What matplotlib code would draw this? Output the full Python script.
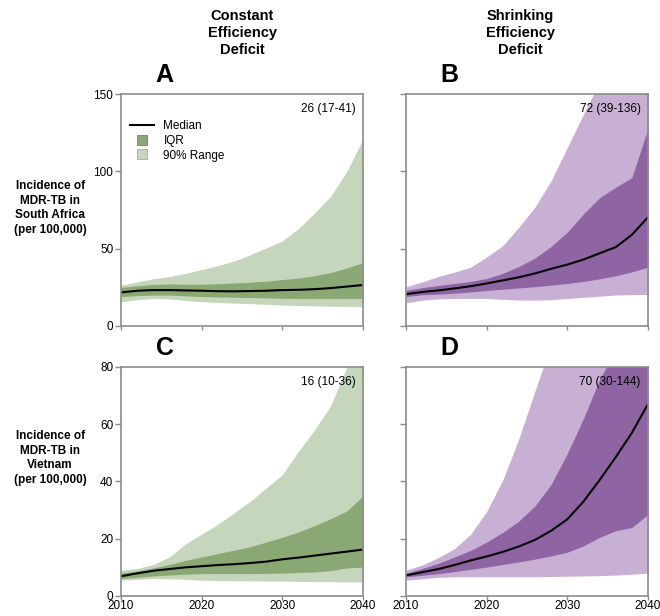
import matplotlib
matplotlib.use("Agg")
import matplotlib.pyplot as plt
from matplotlib.lines import Line2D

plt.rcParams["font.family"] = ["Liberation Sans", "DejaVu Sans"]

years = [2010, 2012, 2014, 2016, 2018, 2020, 2022, 2024,
         2026, 2028, 2030, 2032, 2034, 2036, 2038, 2040]

# South Africa, constant efficiency deficit
a_med = [21.7, 22.8, 23.2, 23.2, 23.0, 22.8, 22.5, 22.4, 22.6, 22.8, 23.2, 23.4, 23.8, 24.5, 25.5, 26.5]
a_q_hi = [25, 26, 26.8, 27.2, 27, 27, 27.3, 27.8, 28.3, 29, 30, 31, 32.5, 34.5, 37.5, 41]
a_q_lo = [19, 19.6, 20, 20, 19.5, 19, 18.8, 18.6, 18.4, 18.2, 17.9, 17.8, 17.8, 17.8, 17.8, 17.8]
a_r_hi = [26.4, 28.5, 30.5, 32, 34, 36.5, 39, 42, 46, 50.5, 55, 63, 73, 84, 100, 121]
a_r_lo = [15.7, 17, 17.8, 17.5, 16.5, 15.7, 15.2, 14.8, 14.5, 14.0, 13.5, 13.2, 13, 12.8, 12.6, 12.4]

# South Africa, shrinking efficiency deficit
b_med = [20.6, 22, 23, 24.3, 25.7, 27.5, 29.5, 31.5, 34, 37, 39.7, 43, 47, 51, 59, 70.4]
b_q_hi = [23, 24.8, 26.2, 27.5, 28.8, 30.7, 34, 38.5, 44, 51.5, 60.7, 72.5, 83, 89.7, 96, 128]
b_q_lo = [19, 20.2, 20.6, 21.2, 22, 23, 23.8, 24.6, 25.4, 26.4, 27.5, 28.8, 30.5, 32.5, 35, 38]
b_r_hi = [25.3, 28.5, 32, 34.8, 38, 44.6, 52, 64, 77, 94, 115.5, 137, 158, 180, 200, 220]
b_r_lo = [15, 16.7, 17.5, 17.8, 17.8, 17.8, 17.2, 16.8, 16.7, 17, 17.8, 18.5, 19.3, 20, 20.3, 20.4]

# Vietnam, constant efficiency deficit
c_med = [6.9, 7.9, 8.8, 9.4, 10.0, 10.4, 10.8, 11.1, 11.5, 12.0, 12.8, 13.4, 14.1, 14.8, 15.5, 16.2]
c_q_hi = [8, 8.8, 9.8, 11, 12.4, 13.6, 14.8, 16, 17.2, 18.8, 20.5, 22.3, 24.6, 27, 29.7, 34.9]
c_q_lo = [6.1, 6.5, 7.0, 7.3, 7.6, 7.8, 7.8, 7.8, 7.8, 7.9, 8.0, 8.2, 8.4, 8.8, 9.8, 10.1]
c_r_hi = [9, 9.6, 11, 13.6, 18.2, 21.6, 25, 29, 33, 37.7, 42.3, 50.5, 58, 66.5, 80, 95]
c_r_lo = [5.5, 5.8, 6.1, 6.0, 5.8, 5.5, 5.4, 5.3, 5.3, 5.2, 5.2, 5.1, 5.0, 5.0, 4.9, 4.9]

# Vietnam, shrinking efficiency deficit
d_med = [7.2, 8.3, 9.4, 10.8, 12.4, 13.8, 15.4, 17.3, 19.6, 22.8, 26.8, 33, 40.5, 48.5, 57, 67]
d_q_hi = [8, 9.6, 11.4, 13.6, 15.9, 18.8, 22.2, 26.2, 31.5, 39, 49.8, 62, 75.6, 86, 95, 105]
d_q_lo = [6.7, 7.2, 7.8, 8.5, 9.3, 10.1, 11, 11.9, 12.9, 14, 15.3, 17.5, 20.5, 22.8, 23.9, 28.5]
d_r_hi = [9, 10.8, 13.4, 16.5, 21.5, 29.5, 40.5, 55, 71.7, 88, 105, 120, 135, 150, 165, 180]
d_r_lo = [5.5, 6.0, 6.5, 6.7, 6.7, 6.7, 6.7, 6.7, 6.7, 6.8, 6.9, 7.0, 7.1, 7.3, 7.6, 8.0]

green_q, green_r = "#8aa873", "#c6d6bd"
purple_q, purple_r = "#8e64a3", "#c7b0d4"
spine_col = "#8c8c8c"

fig = plt.figure(figsize=(6.6, 6.16), dpi=100)

panels = [
    ("A", [0.1833, 0.4708, 0.3667, 0.3766], a_med, a_q_lo, a_q_hi, a_r_lo, a_r_hi,
     green_q, green_r, 150, [0, 50, 100, 150], "26 (17-41)"),
    ("B", [0.6152, 0.4708, 0.3667, 0.3766], b_med, b_q_lo, b_q_hi, b_r_lo, b_r_hi,
     purple_q, purple_r, 150, [0, 50, 100, 150], "72 (39-136)"),
    ("C", [0.1833, 0.0325, 0.3667, 0.372], c_med, c_q_lo, c_q_hi, c_r_lo, c_r_hi,
     green_q, green_r, 80, [0, 20, 40, 60, 80], "16 (10-36)"),
    ("D", [0.6152, 0.0325, 0.3667, 0.372], d_med, d_q_lo, d_q_hi, d_r_lo, d_r_hi,
     purple_q, purple_r, 80, [0, 20, 40, 60, 80], "70 (30-144)"),
]

for letter, rect, med, qlo, qhi, rlo, rhi, cq, cr, ymax, yt, ann in panels:
    ax = fig.add_axes(rect)
    ax.fill_between(years, rlo, rhi, color=cr, lw=0)
    ax.fill_between(years, qlo, qhi, color=cq, lw=0)
    ax.plot(years, med, color="black", lw=1.5)
    ax.set_xlim(2010, 2040)
    ax.set_ylim(0, ymax)
    ax.set_xticks([2010, 2020, 2030, 2040])
    ax.set_yticks(yt)
    for s in ax.spines.values():
        s.set_color(spine_col)
        s.set_linewidth(1.2)
    ax.tick_params(direction="out", length=4, width=1, color=spine_col,
                   labelsize=8.5, pad=1.5)
    ax.tick_params(axis="x", length=3, pad=0)
    if letter in ("A", "B"):
        ax.set_xticklabels([])
    if letter in ("B", "D"):
        ax.set_yticklabels([])
    ax.text(0.97, 0.96, ann, transform=ax.transAxes, ha="right", va="top", fontsize=8.5)
    ax.text(0.18, 1.03, letter, transform=ax.transAxes, ha="center", va="bottom",
            fontsize=18, fontweight="bold")
    if letter == "A":
        handles = [
            Line2D([0], [0], color="black", lw=1.5),
            Line2D([0], [0], ls="none", marker="s", markersize=7,
                   markerfacecolor=green_q, markeredgecolor="#6d8a5a", markeredgewidth=0.6),
            Line2D([0], [0], ls="none", marker="s", markersize=7,
                   markerfacecolor=green_r, markeredgecolor="#a0b296", markeredgewidth=0.6),
        ]
        ax.legend(handles, ["Median", "IQR", "90% Range"], loc="upper left",
                  bbox_to_anchor=(0.0, 0.93), frameon=False, fontsize=8.5,
                  handlelength=2.0, labelspacing=0.25,
                  borderpad=0.3, handletextpad=0.8)

fig.text(0.367, 0.985, "Constant\nEfficiency\nDeficit", ha="center", va="top",
         fontsize=10.5, fontweight="bold", linespacing=1.25)
fig.text(0.788, 0.985, "Shrinking\nEfficiency\nDeficit", ha="center", va="top",
         fontsize=10.5, fontweight="bold", linespacing=1.25)
fig.text(0.076, 1 - 208 / 616, "Incidence of\nMDR-TB in\nSouth Africa\n(per 100,000)",
         ha="center", va="center", fontsize=8.5, fontweight="bold", linespacing=1.3)
fig.text(0.076, 1 - 458 / 616, "Incidence of\nMDR-TB in\nVietnam\n(per 100,000)",
         ha="center", va="center", fontsize=8.5, fontweight="bold", linespacing=1.3)

fig.savefig("out.png", dpi=100)
